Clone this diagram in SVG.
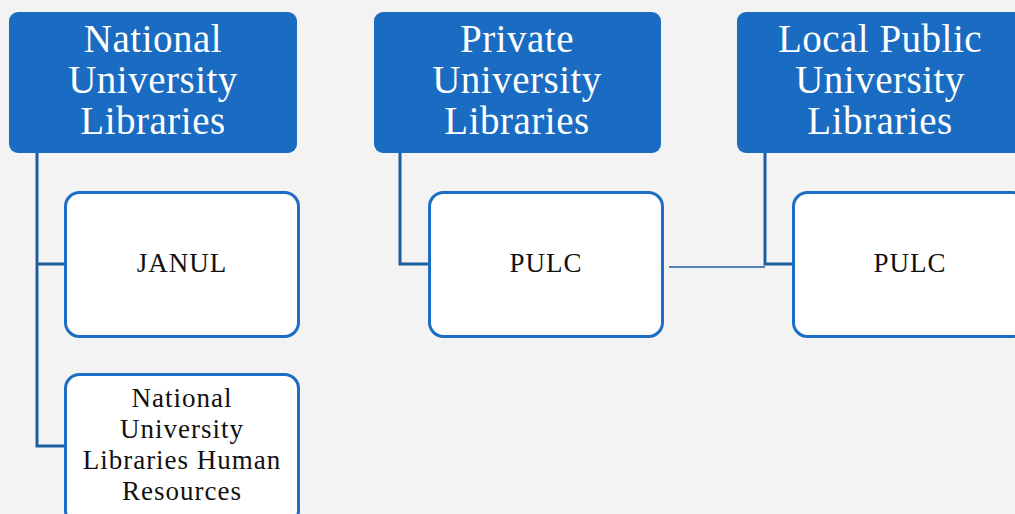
<svg xmlns="http://www.w3.org/2000/svg" width="1015" height="514" viewBox="0 0 1015 514">
<style>
.hdr{fill:#1a6cc2}
.htxt{fill:#ffffff;font-family:"Liberation Serif",serif;font-size:39px;letter-spacing:0.5px;text-anchor:middle}
.child{fill:#ffffff;stroke:#1c6dc4;stroke-width:3}
.ctxt{fill:#111111;font-family:"Liberation Serif",serif;font-size:27px;letter-spacing:1px;text-anchor:middle}
.conn{fill:none;stroke:#1d5da3;stroke-width:3}
.thin{fill:none;stroke:#1d5da3;stroke-width:1.3}
</style>
<rect width="1015" height="514" fill="#f3f3f3"/>
<g id="connectors">
<path class="conn" d="M37,153 V446 H66 M37,264 H66"/>
<path class="conn" d="M400,153 V264 H430"/>
<path class="conn" d="M765,153 V264 H794"/>
<path class="thin" d="M669,267 H765"/>
</g>
<g id="h1"><rect class="hdr" x="9" y="12" width="288" height="141" rx="9"/>
<text class="htxt" x="153" y="52">National</text><text class="htxt" x="153" y="93">University</text><text class="htxt" x="153" y="134">Libraries</text></g>
<g id="h2"><rect class="hdr" x="374" y="12" width="287" height="141" rx="9"/>
<text class="htxt" x="517" y="52">Private</text><text class="htxt" x="517" y="93">University</text><text class="htxt" x="517" y="134">Libraries</text></g>
<g id="h3"><rect class="hdr" x="737" y="12" width="288" height="141" rx="9"/>
<text class="htxt" x="880" y="52">Local Public</text><text class="htxt" x="880" y="93">University</text><text class="htxt" x="880" y="134">Libraries</text></g>
<g id="janul"><rect class="child" x="65.5" y="192.5" width="233" height="144" rx="14"/>
<text class="ctxt" x="182" y="272">JANUL</text></g>
<g id="nulhr"><rect class="child" x="65.5" y="374.5" width="233" height="150" rx="14"/>
<text class="ctxt" x="182" y="407">National</text><text class="ctxt" x="182" y="438">University</text><text class="ctxt" x="182" y="469">Libraries Human</text><text class="ctxt" x="182" y="500">Resources</text></g>
<g id="pulc1"><rect class="child" x="429.5" y="192.5" width="233" height="144" rx="14"/>
<text class="ctxt" x="546" y="272">PULC</text></g>
<g id="pulc2"><rect class="child" x="793.5" y="192.5" width="233" height="144" rx="14"/>
<text class="ctxt" x="910" y="272">PULC</text></g>
</svg>
